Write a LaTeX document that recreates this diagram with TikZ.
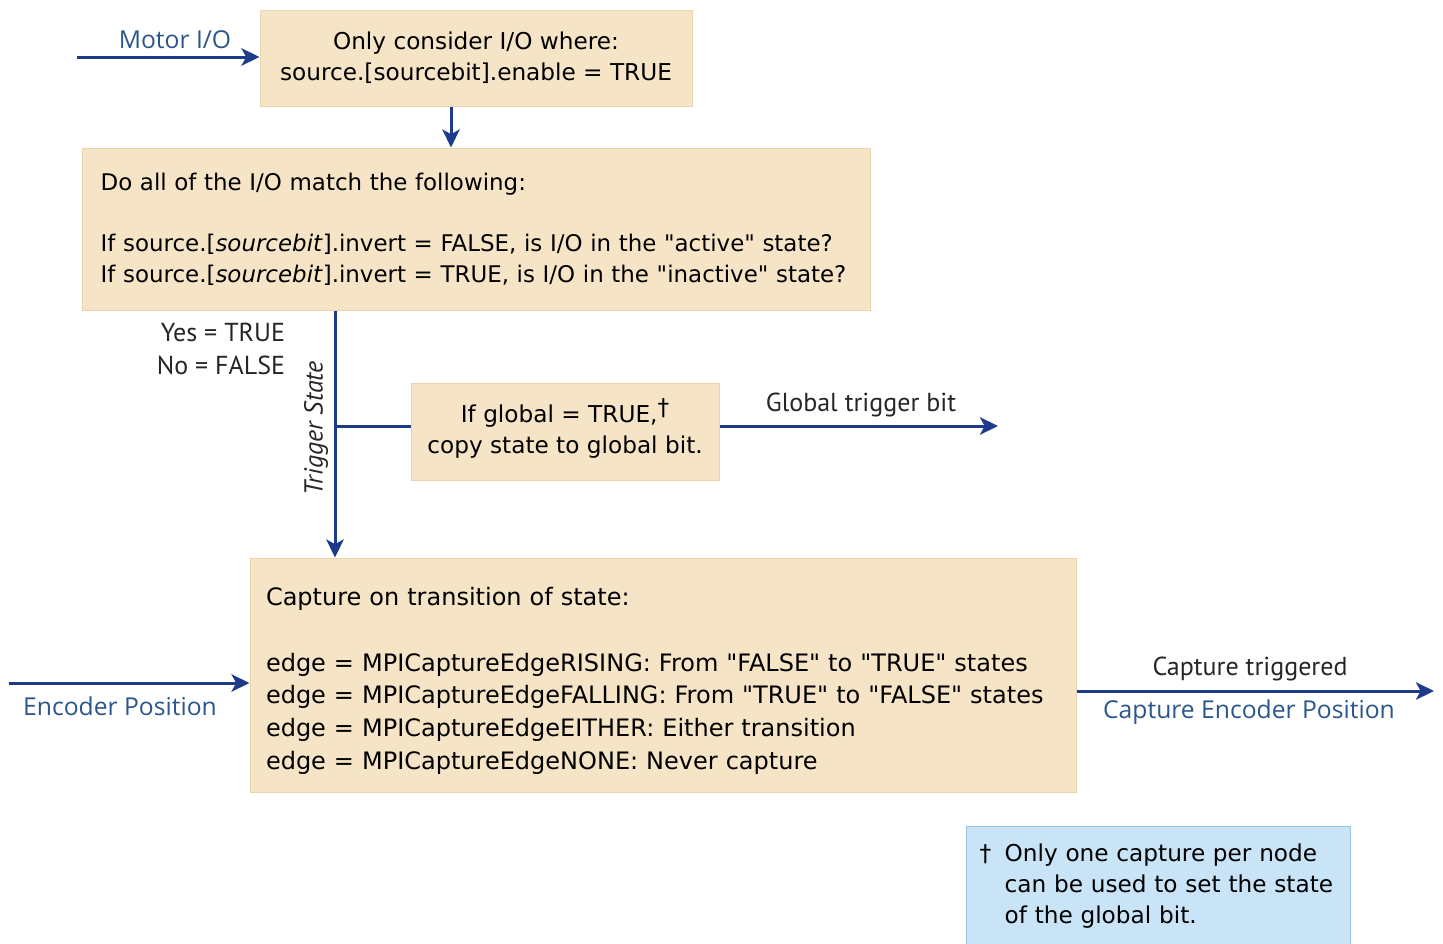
\documentclass[tikz,border=0pt]{standalone}
\usepackage{fontspec}
\setmainfont{DejaVu Sans}
\newfontfamily\labelfont{PT Sans}
\newfontfamily\bluefont{Open Sans}
\usetikzlibrary{arrows.meta}

\definecolor{boxfill}{RGB}{246,228,198}
\definecolor{boxline}{RGB}{234,212,176}
\definecolor{flowblue}{RGB}{30,58,138}
\definecolor{labelblue}{RGB}{42,86,140}
\definecolor{notefill}{RGB}{200,228,246}
\definecolor{noteline}{RGB}{150,196,228}

\newcommand{\dq}{\textquotedbl}

\tikzset{every picture/.style={line width=0.75pt}}
\tikzset{
	flowbox/.style={draw=boxline, fill=boxfill, inner sep=0pt, font=\fontsize{17.4}{23}\selectfont},
	flowline/.style={draw=flowblue, line width=2.25pt},
	flow/.style={flowline, -{Stealth[length=13.5pt,width=13pt,inset=3.5pt]}},
	blacklabel/.style={font=\labelfont\fontsize{19.5}{24}\selectfont, text=black!85},
	bluelabel/.style={font=\bluefont\fontsize{18.5}{22}\selectfont, text=labelblue}
}

\begin{document}
\begin{tikzpicture}[x=0.75pt,y=0.75pt,yscale=-1,xscale=1]
	\useasboundingbox (0,0) rectangle (1443,943);

	%Shape: Rectangle [filter]
	\node[flowbox, minimum width=324pt, minimum height=72pt, align=center] (filter) at (476,58)
		{Only consider I/O where:\\source.[sourcebit].enable = TRUE};
	%Shape: Rectangle [match]
	\node[flowbox, minimum width=591pt, minimum height=121.5pt, text width=563pt, align=left,
		font=\fontsize{17.2}{23}\selectfont] (match) at (476,229)
		{Do all of the I/O match the following:\\[23pt]If source.[\textit{sourcebit}].invert = FALSE, is I/O in the \dq active\dq{} state?\\If source.[\textit{sourcebit}].invert = TRUE, is I/O in the \dq inactive\dq{} state?};
	%Shape: Rectangle [global]
	\node[flowbox, minimum width=231pt, minimum height=72.75pt, align=center] (global) at (565,431.5)
		{If global = TRUE,\smash{\raisebox{5pt}{†}}\\copy state to global bit.};
	%Shape: Rectangle [capture]
	\node[flowbox, minimum width=619.5pt, minimum height=175.5pt, text width=595.5pt, align=left,
		font=\fontsize{18}{24.5}\selectfont] (capture) at (663,675)
		{\rule{0pt}{22.7pt}Capture on transition of state:\\[24.5pt]edge = MPICaptureEdgeRISING: From \dq FALSE\dq{} to \dq TRUE\dq{} states\\edge = MPICaptureEdgeFALLING: From \dq TRUE\dq{} to \dq FALSE\dq{} states\\edge = MPICaptureEdgeEITHER: Either transition\\edge = MPICaptureEdgeNONE: Never capture};
	%Shape: Rectangle [note]
	\node[draw=noteline, fill=notefill, inner sep=0pt, minimum width=288pt, minimum height=90pt, text width=275pt,
		align=left, font=\fontsize{17.4}{23}\selectfont] (note) at (1158,886)
		{\hspace*{3.75pt}\makebox[18.75pt][l]{†}Only one capture per node\\\hspace*{22.5pt}can be used to set the state\\\hspace*{22.5pt}of the global bit.};

	%Points for the free ends
	\coordinate (motorin) at (77,57);
	\coordinate (encin) at (9,683);
	\coordinate (tap) at (335,426);
	\coordinate (globalout) at (998,426);
	\coordinate (capout) at (1434,691);

	%Straight Lines
	\draw[flow] (motorin) -- (motorin -| filter.west);
	\draw[flow] ([xshift=-18.75pt]filter.south) -- ([xshift=-18.75pt]filter.south |- match.north);
	\draw[flow] (tap |- match.south) -- (tap |- capture.north);
	\draw[flowline] (tap) -- (tap -| global.west);
	\draw[flow] (globalout -| global.east) -- (globalout);
	\draw[flow] (encin) -- (encin -| capture.west);
	\draw[flow] (capout -| capture.east) -- (capout);

	% Text Node
	\node[bluelabel] (motorlbl) at (175,40) {Motor I/O};
	% Text Node
	\node[bluelabel] (enclbl) at (120,706) {Encoder Position};
	% Text Node
	\node[bluelabel] (caplbl) at (1249,712) {Capture Encoder Position};
	% Text Node
	\node[blacklabel] (triglbl) at (1250,669) {Capture triggered};
	% Text Node
	\node[blacklabel] (globlbl) at (861,405) {Global trigger bit};
	% Text Node
	\node[blacklabel, anchor=east] (yeslbl) at (290,332) {Yes = TRUE};
	% Text Node
	\node[blacklabel, anchor=east] (nolbl) at (290,365) {No = FALSE};
	% Text Node
	\node[blacklabel, font=\labelfont\itshape\fontsize{19.5}{24}\selectfont, rotate=90] (statelbl) at (316,428) {Trigger State};

\end{tikzpicture}
\end{document}
